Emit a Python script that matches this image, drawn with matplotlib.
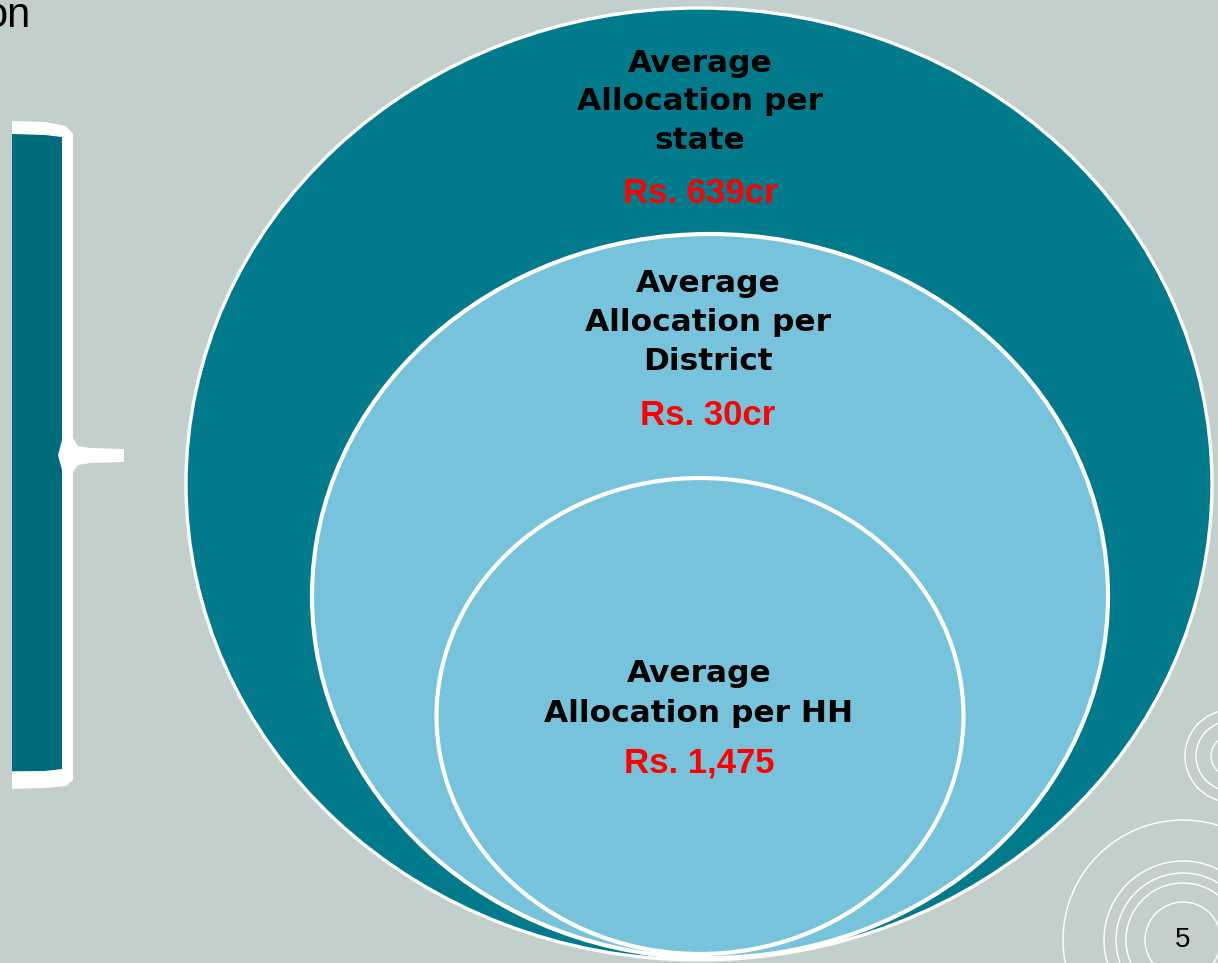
import matplotlib
matplotlib.use("Agg")
import matplotlib.pyplot as plt
from matplotlib.patches import Ellipse, Rectangle, Circle, Polygon

# labels and values of the three nested levels (outer -> inner)
level_labels = ["Average\nAllocation per\nstate",
                "Average\nAllocation per\nDistrict",
                "Average\nAllocation per HH"]
level_values = ["Rs. 639cr", "Rs. 30cr", "Rs. 1,475"]
page_number = "5"
title_tail = "on"

bg = "#c3cfcc"
teal = "#017a8c"
dark_teal = "#006b7b"
light_blue = "#77c3db"

fig = plt.figure(figsize=(12.18, 9.63), dpi=100)
fig.patch.set_facecolor(bg)
ax = fig.add_axes([0, 0, 1, 1])
ax.set_xlim(0, 1218)
ax.set_ylim(963, 0)
ax.axis("off")

# nested ellipses: (center x, center y, width, height, face, edge width)
shapes = [(699, 484, 1026, 952, teal, 2.4),
          (710, 596, 796, 724, light_blue, 3.0),
          (700, 716, 527, 476, light_blue, 3.0)]
for cx, cy, w, h, fc, lw in shapes:
    ax.add_patch(Ellipse((cx, cy), w, h, facecolor=fc, edgecolor="white", linewidth=lw))

# text inside each ellipse: (x, baseline of first line, line step, value baseline)
text_pos = [(700, 72, 38.5, 203),
            (708, 292, 39, 425),
            (699, 682, 40, 772)]
for (x, y0, step, yv), lab, val in zip(text_pos, level_labels, level_values):
    for i, line in enumerate(lab.split("\n")):
        ax.text(x, y0 + i * step, line, ha="center", va="baseline",
                fontsize=22.5, fontweight="bold", family="DejaVu Sans", color="black")
    ax.text(x, yv, val, ha="center", va="baseline", fontsize=25,
            fontweight="bold", family="Liberation Sans", color="#ff0000")

# left panel with brace
ax.add_patch(Rectangle((12, 134), 50, 637, facecolor=dark_teal, edgecolor="none"))
brace = [(12, 121), (45, 122), (66, 126), (73, 134), (73, 438), (78, 446), (90, 448),
         (124, 449), (124, 462), (90, 463), (78, 465), (73, 472), (73, 780), (66, 786),
         (45, 788), (12, 789), (12, 772), (45, 771), (62, 769), (62, 470), (58, 455),
         (62, 440), (62, 137), (45, 135), (12, 134)]
ax.add_patch(Polygon(brace, closed=True, facecolor="white", edgecolor="none"))

# decorative rings, bottom right
for r in [46, 35, 20]:
    ax.add_patch(Circle((1231, 756), r, fill=False, edgecolor="white", linewidth=1.0))
for r in [120, 79, 67, 57, 38]:
    ax.add_patch(Circle((1183, 940), r, fill=False, edgecolor="white", linewidth=1.0))

ax.text(1183, 940, page_number, ha="center", va="center", fontsize=20,
        family="Liberation Sans", color="black")
ax.text(31, 27, title_tail, ha="right", va="baseline", fontsize=30,
        family="Liberation Sans", color="black")

plt.savefig("out.png", dpi=100, facecolor=bg)
